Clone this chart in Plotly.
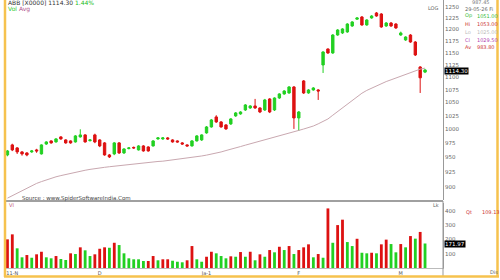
import math
import plotly.graph_objects as go

# ---------------- data ----------------
opens = [954.3, 971.9, 966.6, 959.6, 957.8, 959.6, 963.1, 956.1, 973.5, 979.0,
         977.2, 986.2, 980.8, 979.0, 977.2, 986.2, 989.8, 979.5, 989.8, 980.8,
         975.5, 954.3, 956.1, 975.5, 957.8, 965.5, 967.5, 963.1, 970.1, 968.3,
         970.1, 982.6, 982.6, 984.4, 980.8, 979.0, 975.5, 971.9, 970.1, 979.0,
         980.8, 993.4, 1004.3, 1022.8, 1013.5, 1008.0, 1009.8, 1024.7, 1028.4, 1035.9,
         1039.7, 1043.5, 1039.7, 1035.9, 1056.9, 1035.9, 1058.8, 1066.6, 1068.5, 1080.3,
         1020.9, 1092.2, 1068.5, 1074.4, 1074.4, 1124.5, 1157.8, 1149.4, 1187.7, 1192.1,
         1194.3, 1207.4, 1222.5, 1227.4, 1209.6, 1225.2, 1236.4, 1234.1, 1207.4, 1214.0,
         1211.8, 1187.7, 1177.0, 1187.7, 1172.6, 1120.4, 1110.0]
highs = [963, 974, 968, 961, 959, 963, 965, 973, 978.5, 980,
         984, 987.5, 982, 980, 989.5, 1000, 991, 982, 992, 982,
         977, 956, 977, 977, 966, 968, 969, 971.5, 971.5, 969.5,
         980.5, 986, 986, 986, 982, 980, 977, 973, 980.5, 989.5,
         991, 1006, 1019, 1026, 1015, 1009.5, 1020.5, 1032, 1033.5, 1047,
         1045, 1057, 1041, 1057, 1058.5, 1060, 1068, 1074, 1082, 1082,
         1034, 1094, 1076, 1080, 1076, 1153, 1159, 1189.5, 1200.5, 1202.5,
         1213.5, 1218, 1227, 1229.5, 1222.5, 1231.5, 1238.5, 1236, 1216, 1216,
         1213.5, 1195, 1185, 1189.5, 1174.5, 1122, 1116.5]
lows = [952, 961, 956, 953, 952, 958, 958, 955, 972, 974,
        976, 981, 974, 974, 976, 985, 976, 978, 975, 968,
        953, 949, 954, 956, 956, 964, 965, 962, 960, 960,
        969, 981, 981, 981, 976, 976, 972, 969, 969, 978,
        979, 992, 1003, 1011.7, 1003, 999, 1008, 1023, 1027, 1034,
        1038, 1038, 1030, 1034, 1030, 1034, 1057, 1065, 1067, 1000.7,
        997.0, 1066.6, 1067, 1073, 1055.0, 1108.2, 1147.5, 1147.5, 1186, 1190,
        1192.5, 1205.5, 1221, 1208, 1208, 1223.5, 1228, 1203.5, 1205.5, 1205.5,
        1201, 1186, 1175, 1171, 1143, 1068.5, 1108]
closes = [961.3, 963.1, 959.6, 956.1, 954.3, 961.3, 961.3, 971.9, 977.2, 975.5,
          982.6, 982.6, 975.5, 975.5, 988.0, 989.8, 977.2, 980.8, 977.2, 970.1,
          954.3, 950.9, 975.5, 957.8, 964.8, 966.6, 966.6, 970.1, 961.3, 961.3,
          979.0, 984.4, 984.4, 982.6, 977.2, 977.2, 973.5, 970.1, 979.0, 988.0,
          989.8, 1004.3, 1017.2, 1013.5, 1004.3, 1000.7, 1019.1, 1030.3, 1032.1, 1045.4,
          1043.5, 1039.7, 1032.1, 1055.0, 1032.1, 1058.8, 1066.6, 1072.4, 1080.3, 1020.9,
          1032.1, 1068.5, 1074.4, 1078.3, 1072.4, 1151.5, 1149.4, 1187.7, 1198.6, 1200.9,
          1211.8, 1216.3, 1225.2, 1209.6, 1220.7, 1229.6, 1229.6, 1205.2, 1214.0, 1207.4,
          1203.1, 1192.1, 1183.4, 1172.6, 1145.2, 1098.5, 1114.3]
avg_line = [882, 886, 890, 895, 899, 903, 906, 909, 912, 914.5,
            917, 919, 921, 923, 925, 926.5, 928, 929.5, 931, 932,
            933, 934, 935, 936, 937, 938, 939, 939.5, 940.5, 941,
            942, 943, 943.5, 944.5, 945.5, 947, 948.5, 949.5, 950.5, 951.5,
            952.5, 954, 955.5, 957.5, 959.5, 962, 964, 966.5, 969, 971.5,
            974, 976.5, 979, 981.5, 984, 986.5, 989, 991, 993.5, 995.5,
            998, 1000.5, 1003, 1006, 1010, 1014, 1019, 1026, 1033, 1041,
            1048, 1055, 1062, 1068, 1073.5, 1078, 1082.5, 1087, 1091, 1094.5,
            1098, 1102, 1106, 1110, 1113, 1116, 1118]
volumes = [201, 236, 138, 75, 91, 72, 96, 114, 75, 68,
           84, 63, 56, 103, 98, 145, 124, 84, 96, 135,
           145, 142, 177, 161, 103, 68, 61, 61, 49, 49,
           84, 54, 61, 61, 51, 44, 40, 54, 154, 61,
           44, 79, 114, 103, 84, 68, 82, 79, 112, 79,
           114, 54, 96, 79, 126, 110, 149, 126, 154, 98,
           126, 145, 166, 75, 98, 72, 418, 177, 301, 339,
           182, 154, 205, 107, 103, 107, 103, 166, 199, 168,
           110, 168, 145, 224, 206, 253, 171.97]
vol_dir = "RRGGRGRRGG" "RGGRGRGGRR" "RGRGGGGGGR" "RGRRGGGRRG" "GRRGGGRGRG" \
          "RGRGRGRGRG" "RRRGRGRGRR" "GGRGGRGRRG" "GRGRGRG"
date_ticks = [1, 19, 41, 60, 81]
date_labels = ["11-N", "D", "Ja-1", "F", "M"]
price_ticks = [900, 925, 950, 975, 1000, 1025, 1050, 1075, 1100, 1125, 1150, 1175, 1200, 1225, 1250]
vol_ticks = [100, 200, 300, 400]

GREEN = "#22d022"
RED = "#dd1111"
idx = list(range(len(closes)))

fig = go.Figure()
fig.add_trace(go.Candlestick(
    x=idx, open=opens, high=highs, low=lows, close=closes,
    increasing=dict(line=dict(color=GREEN, width=1), fillcolor=GREEN),
    decreasing=dict(line=dict(color=RED, width=1), fillcolor=RED),
    whiskerwidth=0, xaxis="x", yaxis="y", showlegend=False, hoverinfo="skip"))
fig.add_trace(go.Scatter(x=idx, y=avg_line, mode="lines",
                         line=dict(color="#c9a8b0", width=1),
                         xaxis="x", yaxis="y", showlegend=False, hoverinfo="skip"))
fig.add_trace(go.Bar(x=idx, y=volumes,
                     marker=dict(color=[GREEN if d == "G" else RED for d in vol_dir], line=dict(width=0)),
                     xaxis="x2", yaxis="y2", showlegend=False, hoverinfo="skip"))

# plot area in pixels: x 6..443, y 0..268
L, R, T, B = 6, 443, 0, 268
def PX(x):
    return (x - L) / (R - L)
def PY(y):
    return 1 - (y - T) / (B - T)

tf = dict(family="DejaVu Sans", size=5.5, color="#666")
fig.update_layout(
    width=500, height=280,
    margin=dict(l=L, r=500 - R, t=T, b=280 - B),
    paper_bgcolor="white", plot_bgcolor="white",
    bargap=0.42, boxgap=0.3,
    xaxis=dict(domain=[0, 1], range=[-0.3, 89.7], anchor="y", showticklabels=False,
               showgrid=False, zeroline=False, rangeslider=dict(visible=False)),
    yaxis=dict(domain=[PY(200), 1], type="log", range=[math.log10(879), math.log10(1266)],
               side="right", tickvals=price_ticks, ticktext=[str(v) for v in price_ticks],
               tickfont=tf, showgrid=False, zeroline=False, showline=True,
               linecolor="#999", linewidth=1, ticks="", anchor="x"),
    xaxis2=dict(domain=[0, 1], range=[-0.3, 89.7], anchor="y2", tickvals=date_ticks,
                ticktext=date_labels, tickfont=dict(family="DejaVu Sans", size=5, color="#555"),
                showgrid=False, zeroline=False, showline=True, linecolor="#bbb", ticks=""),
    yaxis2=dict(domain=[0, PY(203)], range=[0, 456], side="right", tickvals=vol_ticks,
                tickfont=tf, showgrid=False, zeroline=False, showline=True,
                linecolor="#999", ticks="", anchor="x2"),
)

shapes = []
# divider between panels
shapes.append(dict(type="line", xref="paper", yref="paper", x0=PX(6), x1=PX(443), y0=PY(201), y1=PY(201),
                   line=dict(color="#a0a0a0", width=2)))
# volume axis extension
shapes.append(dict(type="line", xref="paper", yref="paper", x0=PX(443), x1=PX(443), y0=PY(201), y1=PY(276),
                   line=dict(color="#999", width=1)))
# orange frame
OR = "#f6c24e"
shapes.append(dict(type="line", xref="paper", yref="paper", x0=PX(5), x1=PX(5), y0=PY(-2), y1=PY(277),
                   line=dict(color=OR, width=2.5)))
shapes.append(dict(type="line", xref="paper", yref="paper", x0=PX(4), x1=PX(499), y0=PY(276.5), y1=PY(276.5),
                   line=dict(color=OR, width=2.5)))
shapes.append(dict(type="line", xref="paper", yref="paper", x0=PX(497.5), x1=PX(497.5), y0=PY(-2), y1=PY(277),
                   line=dict(color=OR, width=2.5)))
fig.update_layout(shapes=shapes)

ann = []
def txt(x, y, s, color="#444", size=5.5, anchor="left", **kw):
    ann.append(dict(x=PX(x), y=PY(y), xref="paper", yref="paper", text=s, showarrow=False,
                    xanchor=anchor, yanchor="middle",
                    font=dict(family="DejaVu Sans", size=size, color=color), **kw))

txt(6, 2, "ABB [X0000] 1114.30 <span style='color:#22bb22'>1.44%</span>", color="#333", size=6)
txt(6, 8.5, "<span style='color:#33cc33'>Vol</span> <span style='color:#b0508a'>Avg</span>", size=6)
txt(20, 198.5, "Source : www.SpiderSoftwareIndia.Com", color="#444", size=5.5)
txt(7, 205, "Vl", color="#c05070", size=5)
txt(441, 7.5, "LOG", color="#666", size=5, anchor="right")
txt(441, 205, "Lk", color="#666", size=5, anchor="right")
txt(444, 71, "1114.30", color="white", size=5.5, bgcolor="black", borderpad=0)
txt(444, 244, "171.97", color="white", size=5.5, bgcolor="black", borderpad=0)
txt(470, 2.5, "987.45", color="#777", size=5)
txt(463, 9, "29-05-26 Fi", color="#666", size=5)
txt(463, 16, "Op", color="#33bb33", size=5)
txt(475, 16, "1051.00", color="#33bb33", size=5)
txt(463, 24, "Hi", color="#cc3333", size=5)
txt(475, 24, "1053.00", color="#cc3333", size=5)
txt(463, 32, "Lo", color="#bbbbbb", size=5)
txt(475, 32, "1025.00", color="#bbbbbb", size=5)
txt(463, 40, "Cl", color="#b040b0", size=5)
txt(475, 40, "1029.50", color="#b040b0", size=5)
txt(463, 47, "Av", color="#cc3333", size=5)
txt(475, 47, "983.80", color="#cc3333", size=5)
txt(464, 212, "Qt", color="#cc3333", size=5)
txt(480, 212, "109.13", color="#cc3333", size=5)
txt(488, 272, "Dis", color="#666", size=5)
fig.update_layout(annotations=ann)

fig.write_html("out.html")
